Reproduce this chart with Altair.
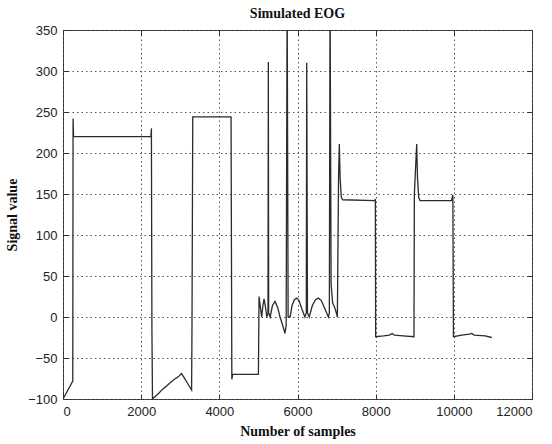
import altair as alt
import pandas as pd

# Sample index (x) and simulated EOG signal value (y)
samples = [
    0, 250, 258, 270, 2250, 2262, 2275, 2290,
    2450, 2550, 2650, 2750, 2850, 2950, 3030, 3100, 3200, 3290, 3300, 3320,
    4300, 4320, 4340, 5000,
    5016, 5050, 5084, 5115, 5144, 5175, 5215, 5245, 5254, 5262,
    5300, 5360, 5425, 5490, 5554, 5620, 5680, 5710, 5735, 5760,
    5810, 5860, 5920, 5980, 6040, 6110, 6190, 6225, 6236, 6255,
    6300, 6380, 6460, 6535, 6610, 6700, 6790, 6815, 6833, 6860,
    6900, 6950, 7000, 7020, 7050, 7070, 7090, 7120, 7157,
    7980, 7992, 8000, 8200, 8350, 8420, 8480, 8700, 8980,
    8990, 9050, 9070, 9100, 9136, 9940, 9975, 9990,
    10200, 10400, 10458, 10520, 10800, 10970,
]
signal = [
    -100, -78, 242, 220, 220, 230, -15, -100,
    -93, -88, -84, -80, -76, -73, -69, -74, -82, -89, -15, 244,
    244, -76, -70, -70,
    25, 12, 0, 14, 22, 14, 0, 5, 311, 5,
    0, 14, 19, 12, 0, -10, -20, -10, 400, 0,
    0, 14, 21, 23, 20, 10, 0, 5, 310, 5,
    0, 14, 21, 23, 20, 10, 0, 5, 400, 40,
    17, 12, 4, 0, 170, 211, 170, 146, 143,
    142, 144, -24, -23, -22, -20, -22, -23, -24,
    150, 211, 170, 146, 142, 142, 149, -24,
    -22, -21, -20, -22, -23, -25,
]

df = pd.DataFrame({"i": list(range(len(samples))), "n": samples, "v": signal})

x_ticks = [0, 2000, 4000, 6000, 8000, 10000, 12000]
y_ticks = [-100, -50, 0, 50, 100, 150, 200, 250, 300, 350]

label_font = "Liberation Sans"
title_font = "Liberation Serif"

xscale = alt.Scale(domain=[0, 12000], nice=False, zero=False)
yscale = alt.Scale(domain=[-100, 350], nice=False, zero=False)

main = alt.Chart(df).mark_line(color="#2b2b2b", strokeWidth=1.3, clip=True).encode(
    x=alt.X("n:Q", scale=xscale, title="Number of samples",
            axis=alt.Axis(values=x_ticks, format="d", offset=-5, tickSize=5,
                          tickColor="#333", domain=False, labelPadding=6,
                          labelFont=label_font, labelFontSize=13, labelColor="#222",
                          titleFont=title_font, titleFontSize=14, titleFontWeight="bold",
                          titleColor="#111", titlePadding=6,
                          grid=True, gridColor="#555", gridDash=[1.5, 3], gridWidth=1)),
    y=alt.Y("v:Q", scale=yscale, title="Signal value",
            axis=alt.Axis(values=y_ticks, format="d", offset=-5, tickSize=5,
                          tickColor="#333", domain=False, labelPadding=6,
                          labelFont=label_font, labelFontSize=13, labelColor="#222",
                          titleFont=title_font, titleFontSize=14, titleFontWeight="bold",
                          titleColor="#111", titlePadding=8,
                          grid=True, gridColor="#555", gridDash=[1.5, 3], gridWidth=1)),
    order=alt.Order("i:Q"),
)

ghost = alt.Chart(df).mark_line(opacity=0, clip=True).encode(
    x=alt.X("n:Q", scale=xscale, title=None,
            axis=alt.Axis(orient="top", values=x_ticks, offset=-5, tickSize=5,
                          tickColor="#333", domain=False, labels=False, grid=False)),
    y=alt.Y("v:Q", scale=yscale, title=None,
            axis=alt.Axis(orient="right", values=y_ticks, offset=-5, tickSize=5,
                          tickColor="#333", domain=False, labels=False, grid=False)),
    order=alt.Order("i:Q"),
)

chart = alt.layer(ghost, main).resolve_axis(x="independent", y="independent").properties(
    width=469,
    height=369,
    title=alt.TitleParams("Simulated EOG", font=title_font, fontSize=14,
                          fontWeight="bold", color="#111", anchor="middle",
                          offset=3, frame="group"),
    autosize=alt.AutoSizeParams(type="none"),
    padding={"left": 63, "top": 30, "right": 20, "bottom": 45},
    background="white",
).configure_view(stroke="#333", strokeWidth=1)

chart.save("out.html", embed_options={"renderer": "svg", "actions": False})
